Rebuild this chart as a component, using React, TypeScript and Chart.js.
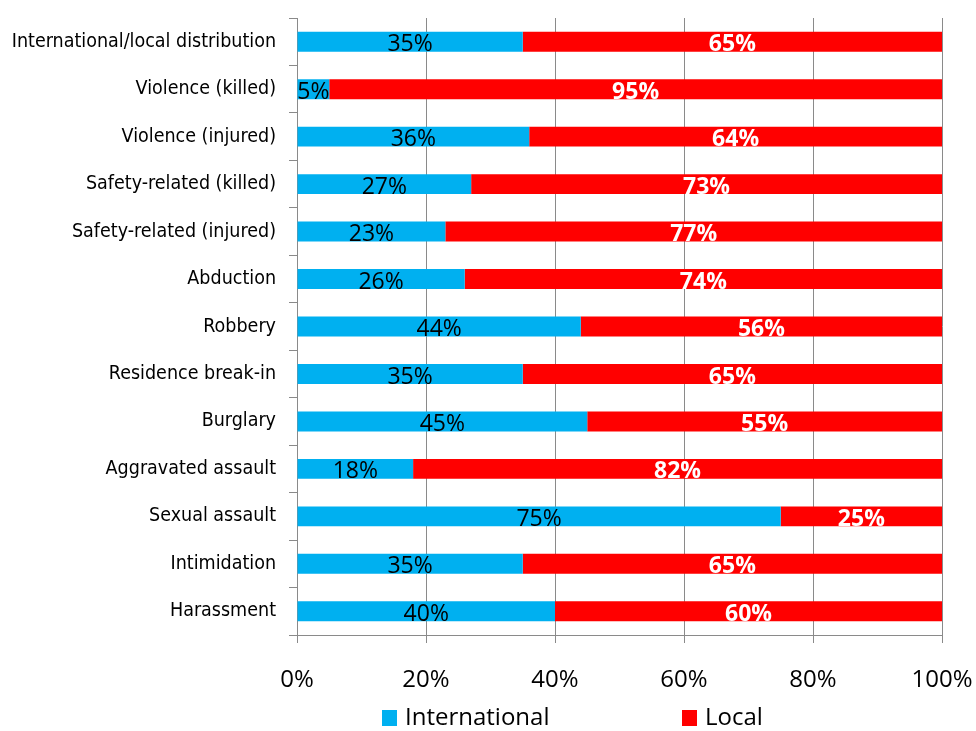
import React, { useEffect, useRef } from "react";
import { Chart, registerables } from "chart.js";

Chart.register(...registerables);

const categories = [
  "International/local distribution",
  "Violence (killed)",
  "Violence (injured)",
  "Safety-related (killed)",
  "Safety-related (injured)",
  "Abduction",
  "Robbery",
  "Residence break-in",
  "Burglary",
  "Aggravated assault",
  "Sexual assault",
  "Intimidation",
  "Harassment",
];
const internationalValues = [35, 5, 36, 27, 23, 26, 44, 35, 45, 18, 75, 35, 40];
const localValues = [65, 95, 64, 73, 77, 74, 56, 65, 55, 82, 25, 65, 60];
const seriesNames = ["International", "Local"];
const seriesColors = ["#00B0F0", "#FF0000"];
const xTickMin = 0;
const xTickMax = 100;
const xTickStep = 20;

const GRID = "#8a8a8a";

const labelPlugin = {
  id: "barLabels",
  afterDatasetsDraw(chart: any) {
    const ctx = chart.ctx;
    ctx.save();
    ctx.textAlign = "center";
    ctx.textBaseline = "middle";
    chart.data.datasets.forEach((ds: any, di: number) => {
      const meta = chart.getDatasetMeta(di);
      ctx.fillStyle = di === 0 ? "#000000" : "#FFFFFF";
      ctx.font = (di === 0 ? "" : "bold ") + "23px 'Open Sans'";
      meta.data.forEach((el: any, i: number) => {
        const v = ds.data[i];
        const cx = (el.x + el.base) / 2;
        ctx.fillText(v + "%", cx, el.y + 3);
      });
    });
    ctx.restore();
  },
};

const legendPlugin = {
  id: "customLegend",
  afterDraw(chart: any) {
    const ctx = chart.ctx;
    ctx.save();
    ctx.font = "24px 'Open Sans'";
    ctx.textAlign = "left";
    ctx.textBaseline = "middle";
    const x0 = 382;
    const yc = 718;
    chart.data.datasets.forEach((ds: any, i: number) => {
      const x = x0 + i * 300;
      ctx.fillStyle = ds.backgroundColor;
      ctx.fillRect(x, yc - 8, 15, 16);
      ctx.fillStyle = "#000000";
      ctx.fillText(ds.label, x + 23, yc);
    });
    ctx.restore();
  },
};

export default function App() {
  const ref = useRef<HTMLCanvasElement | null>(null);
  useEffect(() => {
    document.body.style.margin = "0";
    const chart = new Chart(ref.current as HTMLCanvasElement, {
      type: "bar",
      data: {
        labels: categories,
        datasets: [
          {
            label: seriesNames[0],
            data: internationalValues,
            backgroundColor: seriesColors[0],
            barPercentage: 0.42,
            categoryPercentage: 1,
          },
          {
            label: seriesNames[1],
            data: localValues,
            backgroundColor: seriesColors[1],
            barPercentage: 0.42,
            categoryPercentage: 1,
          },
        ],
      },
      options: {
        indexAxis: "y",
        animation: false,
        responsive: true,
        maintainAspectRatio: false,
        layout: { padding: { top: 18, right: 34, left: 0, bottom: 0 } },
        plugins: {
          legend: { display: false },
          tooltip: { enabled: false },
        },
        scales: {
          x: {
            stacked: true,
            min: xTickMin,
            max: xTickMax,
            afterFit: (s: any) => {
              s.height = 96;
              s.paddingLeft = 0;
              s.paddingRight = 0;
            },
            ticks: {
              stepSize: xTickStep,
              callback: (v: any) => v + "%",
              color: "#000",
              padding: 23,
              font: { family: "'Open Sans'", size: 24 },
            },
            grid: { color: GRID, tickLength: 8, lineWidth: 1 },
            border: { color: GRID },
          },
          y: {
            stacked: true,
            afterFit: (s: any) => {
              s.width = 297;
              s.paddingTop = 0;
              s.paddingBottom = 0;
            },
            ticks: {
              color: "#000",
              padding: 13,
              font: { family: "'DejaVu Sans Condensed'", size: 19.5 },
            },
            grid: { drawOnChartArea: false, color: GRID, tickLength: 8, offset: true },
            border: { color: GRID },
          },
        },
      },
      plugins: [labelPlugin, legendPlugin],
    });
    return () => chart.destroy();
  }, []);
  return (
    <div style={{ width: 976, height: 731, position: "relative" }}>
      <canvas ref={ref} />
    </div>
  );
}
